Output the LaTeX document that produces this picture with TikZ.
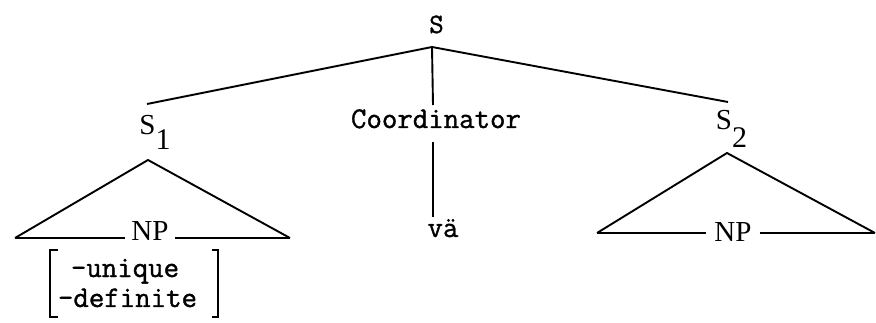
\documentclass[tikz,border=0pt]{standalone}
\usepackage{fontspec}
\setmainfont{Liberation Serif}
\newfontfamily\typefont{Latin Modern Mono}[FakeBold=1.2]
\usetikzlibrary{positioning}

\begin{document}
\begin{tikzpicture}[
    x=1pt, y=-1pt,
    branch/.style={line width=1.9pt},
    cat/.style={inner sep=0pt, anchor=base, font=\fontsize{29}{29}\selectfont},
    typed/.style={inner sep=0pt, anchor=base, font=\typefont\fontsize{30}{30}\selectfont}
]
\useasboundingbox (0,0) rectangle (876,323);

\node[typed, font=\typefont\fontsize{28}{28}\selectfont] (root) at (436.5,33) {S};
\node[cat] (s1) at (155,135) {S\raisebox{-15pt}{\fontsize{30}{30}\selectfont 1}};
\node[typed] (coord) at (436,128) {Coordinator};
\node[cat] (s2) at (731.5,130) {S\raisebox{-18pt}{\fontsize{30}{30}\selectfont 2}};

\node[cat, inner xsep=6pt] (np1) at (150,241) {NP};
\node[typed] (va) at (443,237) {v\"a};
\node[cat, inner xsep=8pt] (np2) at (733,242) {NP};

\node[typed] (uniq) at (125,277) {-unique};
\node[typed] (defin) at (127.5,307) {-definite};

\coordinate (rootj) at (432,47);
\coordinate (s1j) at (147,104);
\coordinate (s2j) at (728,102);
\coordinate (ctop) at (433,105);
\coordinate (cbot) at (433,142);
\coordinate (vatop) at (433,217);

\coordinate (apex1) at (148,160);
\coordinate (bl1) at (15,238);
\coordinate (br1) at (290,238);
\coordinate (apex2) at (727,153);
\coordinate (bl2) at (597,233);
\coordinate (br2) at (875,233);

\draw[branch] (s1j) -- (rootj) -- (s2j);
\draw[branch] (rootj) -- (ctop);
\draw[branch] (cbot) -- (vatop);

\draw[branch] (bl1) -- (apex1) -- (br1);
\draw[branch] (bl1) -- (bl1 -| np1.west);
\draw[branch] (br1 -| np1.east) -- (br1);
\draw[branch] (bl2) -- (apex2) -- (br2);
\draw[branch] (bl2) -- (bl2 -| np2.west);
\draw[branch] (br2 -| np2.east) -- (br2);

\draw[line width=1.7pt] (58,250) -- (50,250) -- (50,317) -- (58,317);
\draw[line width=1.7pt] (212,250) -- (218,250) -- (218,317) -- (212,317);

\end{tikzpicture}
\end{document}
